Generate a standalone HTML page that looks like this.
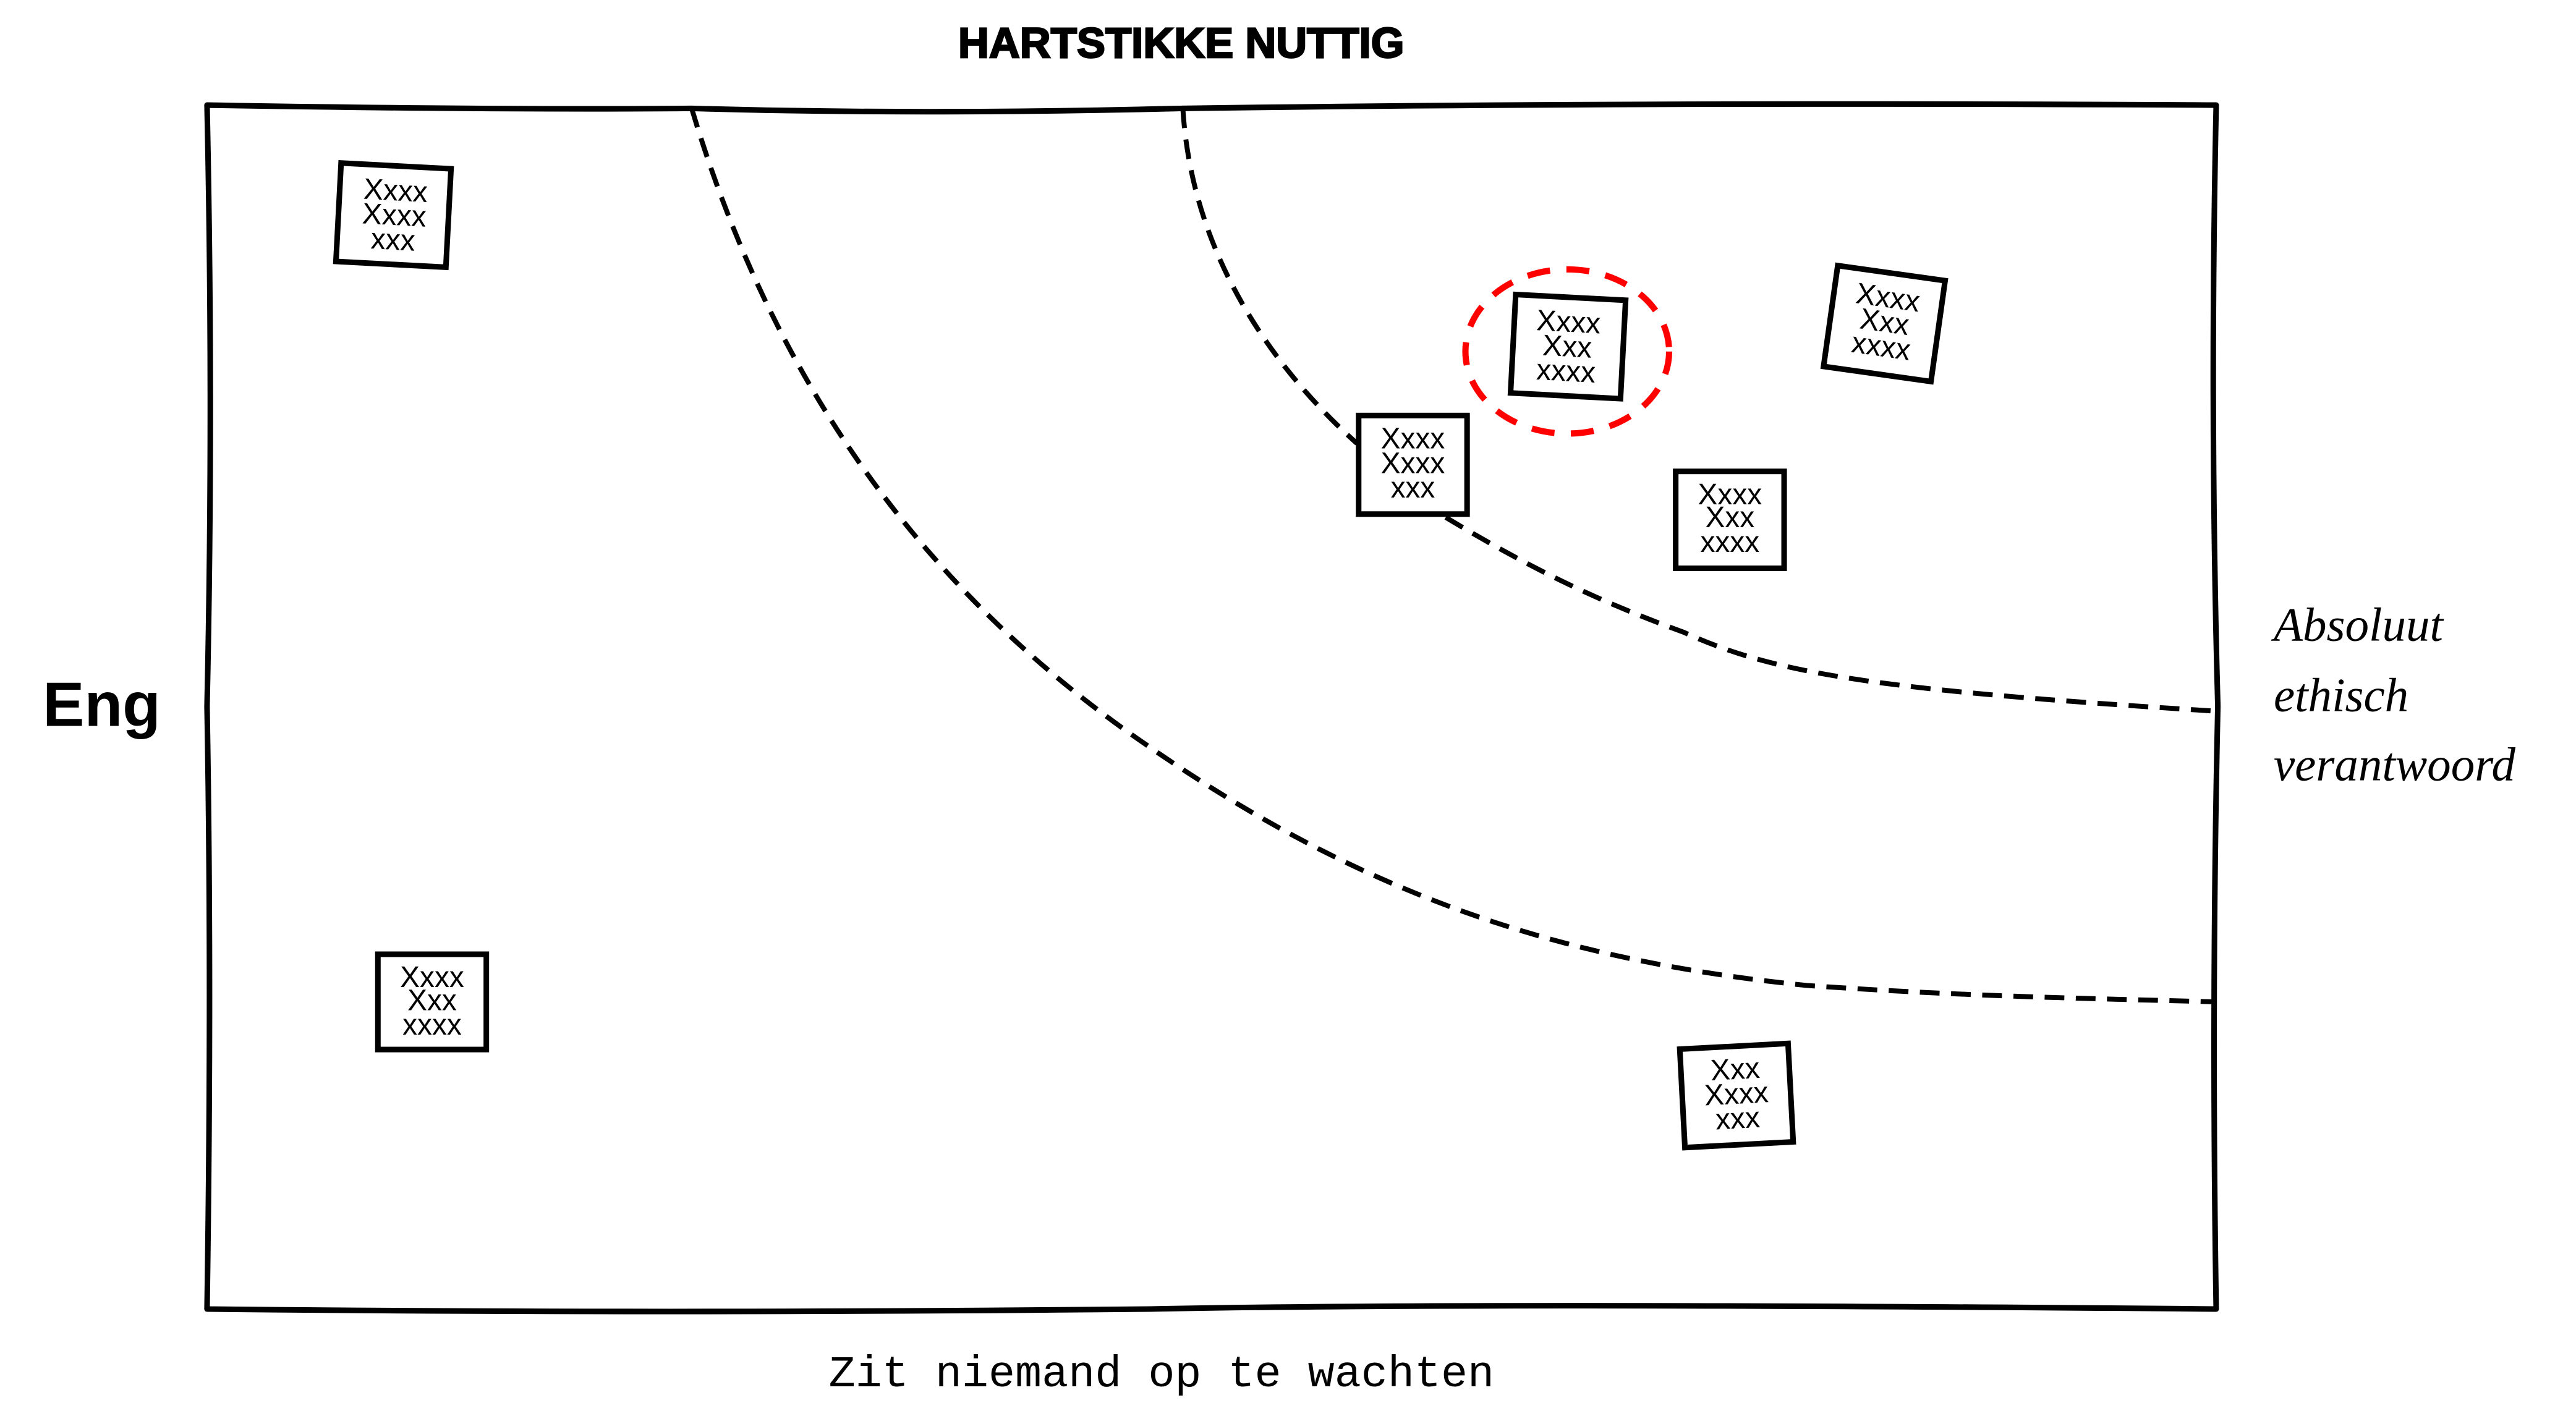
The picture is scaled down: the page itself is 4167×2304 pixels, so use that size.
<!DOCTYPE html>
<html><head><meta charset="utf-8"><style>html,body{margin:0;padding:0;background:#fff;}svg{display:block}</style></head>
<body>
<svg width="4167" height="2304" viewBox="0 0 1568 867" xmlns="http://www.w3.org/2000/svg">
<rect width="1568" height="867" fill="#fff"/>
<g fill="none" stroke="#000" stroke-width="3.4" stroke-linejoin="round">
<path d="M126,64 Q300,67 421,66 Q560,70 720,66 Q1000,62 1349,64 Q1345,250 1350,430 Q1346,610 1349,797 Q900,793 700,797 Q400,800 126,797 Q129,600 126,430 Q130,250 126,64 Z"/>
</g>
<g fill="none" stroke="#000" stroke-width="3" stroke-dasharray="12,7">
<path d="M421,66 C470,230 560,360 700,455 C830,545 950,585 1100,600 C1200,607 1280,608 1349,610"/>
<path d="M720,66 C725,150 770,220 826,270"/>
<path d="M880,315 C930,345 970,365 1025,385 C1080,410 1140,420 1349,433"/>
</g>
<ellipse cx="954" cy="214" rx="62" ry="50" fill="none" stroke="#f00" stroke-width="3.8" stroke-dasharray="14,10"/>
<g font-family="'Liberation Sans Narrow','Liberation Sans',sans-serif" font-size="18" text-anchor="middle" fill="#000">
<g transform="rotate(3 240 131)"><rect x="206" y="101" width="67" height="60" fill="#fff" stroke="#000" stroke-width="3.4"/><text x="240" y="122">Xxxx</text><text x="240" y="137">Xxxx</text><text x="240" y="152">xxx</text></g>
<g transform="rotate(3 954 211)"><rect x="921" y="181" width="67" height="60" fill="#fff" stroke="#000" stroke-width="3.4"/><text x="954" y="202">Xxxx</text><text x="954" y="217">Xxx</text><text x="954" y="232">xxxx</text></g>
<g transform="rotate(8 1147 197)"><rect x="1114" y="166" width="66" height="62" fill="#fff" stroke="#000" stroke-width="3.4"/><text x="1147" y="187">Xxxx</text><text x="1147" y="202">Xxx</text><text x="1147" y="217">xxxx</text></g>
<g><rect x="827" y="253" width="66" height="60" fill="#fff" stroke="#000" stroke-width="3.4"/><text x="860" y="273">Xxxx</text><text x="860" y="288">Xxxx</text><text x="860" y="303">xxx</text></g>
<g><rect x="1020" y="287" width="66" height="59" fill="#fff" stroke="#000" stroke-width="3.4"/><text x="1053" y="307">Xxxx</text><text x="1053" y="321">Xxx</text><text x="1053" y="336">xxxx</text></g>
<g><rect x="230" y="581" width="66" height="58" fill="#fff" stroke="#000" stroke-width="3.4"/><text x="263" y="601">Xxxx</text><text x="263" y="615">Xxx</text><text x="263" y="630">xxxx</text></g>
<g transform="rotate(-3 1057 667)"><rect x="1024" y="637" width="66" height="60" fill="#fff" stroke="#000" stroke-width="3.4"/><text x="1057" y="657">Xxx</text><text x="1057" y="672">Xxxx</text><text x="1057" y="687">xxx</text></g>
</g>
<text x="719" y="35" text-anchor="middle" font-family="'Liberation Sans',sans-serif" font-weight="900" font-size="26" stroke="#000" stroke-width="1">HARTSTIKKE NUTTIG</text>
<text x="26" y="442" font-family="'Liberation Sans',sans-serif" font-weight="bold" font-size="38">Eng</text>
<g font-family="'URW Chancery L','Liberation Serif',cursive" font-style="italic" font-size="29">
<text x="1384" y="390">Absoluut</text><text x="1384" y="433">ethisch</text><text x="1384" y="475">verantwoord</text>
</g>
<text x="707" y="844" text-anchor="middle" font-family="'Liberation Mono',monospace" font-size="27">Zit niemand op te wachten</text>
</svg>
</body></html>
